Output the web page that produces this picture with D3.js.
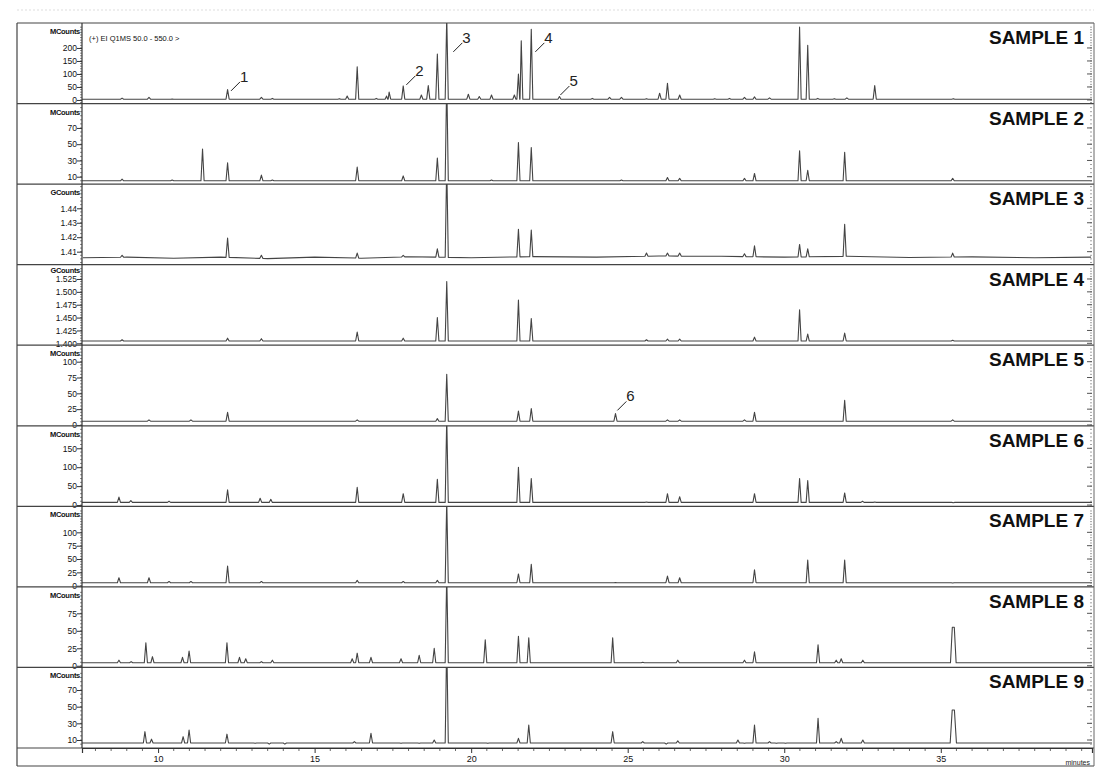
<!DOCTYPE html>
<html>
<head>
<meta charset="utf-8">
<script src="https://cdn.jsdelivr.net/npm/d3@7"></script>
<style>
  body { margin: 0; background: #fff; }
  svg { display: block; }
  text { font-family: "Liberation Sans", Arial, sans-serif; }
</style>
</head>
<body>
<svg id="chart" width="1098" height="776"></svg>
<script>
// ---- data ----
const sampleNames = ["SAMPLE 1", "SAMPLE 2", "SAMPLE 3", "SAMPLE 4", "SAMPLE 5",
                     "SAMPLE 6", "SAMPLE 7", "SAMPLE 8", "SAMPLE 9"];
const unitLabels = ["MCounts", "MCounts", "GCounts", "GCounts", "MCounts",
                    "MCounts", "MCounts", "MCounts", "MCounts"];
const yDomains = [[-13.8, 296], [0.9, 100], [1.40101, 1.45673], [1.39631, 1.5528], [-1.26, 126],
                  [-3.4, 209.5], [-2.2, 148.7], [-2.4, 112.8], [0.4, 97.1]];
const yTicks = [[0, 50, 100, 150, 200], [10, 30, 50, 70], [1.41, 1.42, 1.43, 1.44],
                [1.400, 1.425, 1.450, 1.475, 1.500, 1.525], [0, 25, 50, 75, 100],
                [0, 50, 100, 150], [0, 25, 50, 75, 100], [0, 25, 50, 75], [10, 30, 50, 70]];
const yMinorSteps = [10, 5, 0.0025, 0.005, 5, 10, 5, 5, 5];
const yFormats = ["d", "d", ".2f", ".3f", "d", "d", "d", "d", "d"];
const baselines = [3, 5, 1.4058, 1.4045, 6, 7, 5.6, 4.3, 6.4];

// retention time (minutes), apex height (panel units), optional half width (minutes)
const peaks1 = [[8.85, 7], [9.71, 10], [10.45, 4], [12.22, 40], [13.3, 10], [13.65, 6], [15.79, 5],
  [16.04, 15], [16.36, 128], [16.97, 6], [17.3, 15], [17.38, 30], [17.83, 54], [18.41, 19],
  [18.63, 55], [18.92, 177], [19.22, 320], [19.91, 22], [20.26, 13], [20.65, 19], [21.38, 19],
  [21.51, 100], [21.6, 228], [21.92, 272], [22.82, 13], [23.87, 6], [24.42, 10], [24.8, 10],
  [25.6, 5], [26.02, 26], [26.27, 64], [26.66, 19], [27.78, 5], [28.25, 6], [28.73, 10],
  [29.05, 12], [29.53, 8], [30.49, 280], [30.75, 210], [31.07, 6], [31.6, 5], [32.0, 8],
  [32.89, 55], [35.4, 5]];
const peaks2 = [[8.85, 7], [10.45, 6], [11.42, 44], [12.22, 27], [13.3, 12], [13.65, 6], [16.36, 22],
  [17.83, 11], [18.92, 33], [19.22, 130], [20.65, 6], [21.51, 52], [21.92, 46], [24.8, 6],
  [26.27, 9], [26.66, 8], [28.73, 8], [29.05, 14], [30.49, 42], [30.75, 18], [31.93, 40], [35.38, 8]];
const peaks3 = [[8.85, 1.4075], [12.22, 1.4195], [13.3, 1.4075], [16.36, 1.409], [17.83, 1.4075],
  [18.92, 1.412], [19.22, 1.47], [21.51, 1.4255], [21.92, 1.425], [25.6, 1.409], [26.27, 1.409],
  [26.66, 1.409], [28.73, 1.4085], [29.05, 1.414], [30.49, 1.415], [30.75, 1.412], [31.93, 1.429],
  [35.38, 1.409]];
const drift3 = [[7.6, 1.4058], [9.0, 1.4062], [10.5, 1.4055], [12.0, 1.4062], [13.5, 1.4052],
  [15.0, 1.4062], [16.5, 1.4055], [18.0, 1.4065], [20.0, 1.4058], [22.0, 1.4066], [24.0, 1.4062],
  [26.0, 1.407], [28.0, 1.4068], [30.0, 1.4062], [32.0, 1.4068], [34.0, 1.406], [36.0, 1.4064],
  [38.0, 1.4058], [39.8, 1.4062]];
const peaks4 = [[8.85, 1.407], [12.22, 1.41], [13.3, 1.409], [16.36, 1.422], [17.83, 1.41],
  [18.92, 1.45], [19.22, 1.52], [21.51, 1.484], [21.92, 1.448], [25.6, 1.407], [26.27, 1.408],
  [26.66, 1.408], [29.05, 1.412], [30.49, 1.465], [30.75, 1.418], [31.93, 1.42], [35.38, 1.406]];
const peaks5 = [[9.71, 8], [11.05, 8], [12.22, 20], [16.36, 8], [18.92, 10], [19.22, 80], [21.51, 22],
  [21.92, 26], [24.61, 18], [26.27, 8], [26.66, 8], [28.73, 8], [29.05, 20], [31.93, 39], [35.38, 8]];
const peaks6 = [[8.75, 21], [9.13, 12], [10.35, 10], [12.22, 40], [13.26, 18], [13.6, 15], [16.36, 47],
  [17.83, 30], [18.92, 68], [19.22, 230], [21.51, 100], [21.92, 70], [25.6, 8], [26.27, 30],
  [26.66, 22], [29.05, 30], [30.49, 70], [30.75, 65], [31.93, 32], [32.5, 10], [32.89, 8], [35.4, 6]];
const peaks7 = [[8.75, 15], [9.71, 15], [10.35, 8], [11.05, 8], [12.22, 37], [13.3, 8], [16.36, 10],
  [17.83, 8], [18.92, 10], [19.22, 160], [21.51, 22], [21.92, 40], [24.61, 6], [26.27, 18],
  [26.66, 15], [29.05, 30], [30.75, 48], [31.93, 48], [35.38, 5]];
const peaks8 = [[8.75, 8], [9.14, 6], [9.61, 33], [9.82, 13], [10.78, 12], [10.99, 21], [12.2, 33],
  [12.6, 12], [12.8, 10], [13.3, 6], [13.65, 8], [16.2, 10], [16.36, 18], [16.8, 12], [17.76, 10],
  [18.34, 15], [18.82, 25], [19.22, 130], [20.45, 37], [21.51, 42], [21.84, 40], [24.52, 40],
  [25.48, 5], [26.6, 8], [28.73, 8], [29.05, 20], [31.08, 30], [31.66, 8], [31.82, 10], [32.51, 8],
  [35.4, 55, 0.09]];
const peaks9 = [[9.58, 20], [9.79, 11], [10.8, 14], [10.99, 22], [12.2, 17], [13.1, 6], [13.55, 5],
  [14.05, 5], [16.27, 8], [16.8, 18], [17.76, 6], [18.34, 6], [18.82, 10], [19.22, 130], [20.53, 6],
  [21.51, 12], [21.84, 28], [24.52, 20], [25.48, 8], [26.23, 5], [26.6, 9], [28.52, 10], [28.73, 6],
  [29.05, 28], [29.53, 8], [29.75, 6], [30.04, 6], [31.08, 36], [31.66, 8], [31.82, 12], [32.51, 10],
  [35.4, 46, 0.1]];
const allPeaks = [peaks1, peaks2, peaks3, peaks4, peaks5, peaks6, peaks7, peaks8, peaks9];

const xTicks = [10, 15, 20, 25, 30, 35];
const annotations = [
  { label: "1", panel: 0, t: 12.33, v: 35 },
  { label: "2", panel: 0, t: 17.93, v: 58 },
  { label: "3", panel: 0, t: 19.43, v: 185 },
  { label: "4", panel: 0, t: 22.05, v: 185 },
  { label: "5", panel: 0, t: 22.85, v: 19 },
  { label: "6", panel: 4, t: 24.67, v: 23 }
];

// ---- layout ----
const svg = d3.select("#chart");
const frameLeft = 17, plotLeft = 82, plotRight = 1092, frameRight = 1094;
const plotTop = 23, plotBottom = 748, frameBottom = 766;
const panelH = (plotBottom - plotTop) / 9;
const halfWidth = 0.05;

const x = d3.scaleLinear().domain([7.57, 39.83]).range([plotLeft, plotRight]);

svg.append("rect").attr("width", 1098).attr("height", 776).attr("fill", "#fff");

// faint scan line at the very top
svg.append("line")
  .attr("x1", frameLeft).attr("x2", frameRight).attr("y1", 10).attr("y2", 10)
  .attr("stroke", "#ddd").attr("stroke-dasharray", "2,2");

const defs = svg.append("defs");

allPeaks.forEach((peaks, i) => {
  const top = plotTop + i * panelH, bottom = top + panelH;
  const y = d3.scaleLinear().domain(yDomains[i]).range([bottom, top]);
  const g = svg.append("g").attr("class", "panel");

  defs.append("clipPath").attr("id", "clip" + i)
    .append("rect").attr("x", plotLeft).attr("y", top).attr("width", plotRight - plotLeft).attr("height", panelH);

  // baseline + spikes
  const base = i === 2
    ? (t => { const j = d3.bisector(d => d[0]).left(drift3, t);
              const a = drift3[Math.max(0, j - 1)], b = drift3[Math.min(drift3.length - 1, j)];
              return a[0] === b[0] ? a[1] : a[1] + (b[1] - a[1]) * (t - a[0]) / (b[0] - a[0]); })
    : (() => baselines[i]);
  const pts = [];
  if (i === 2) drift3.forEach(d => pts.push(d));
  else { pts.push([x.domain()[0], base()]); pts.push([x.domain()[1], base()]); }
  peaks.forEach(([t, h, w]) => {
    const hw = w || halfWidth;
    pts.push([t - hw, base(t - hw)]);
    if (w) { pts.push([t - hw * 0.35, h]); pts.push([t + hw * 0.35, h]); }
    else pts.push([t, h]);
    pts.push([t + hw, base(t + hw)]);
  });
  pts.sort((a, b) => a[0] - b[0]);

  g.append("path")
    .datum(pts)
    .attr("clip-path", `url(#clip${i})`)
    .attr("fill", "none")
    .attr("stroke", "#444")
    .attr("stroke-width", 1.1)
    .attr("stroke-linejoin", "round")
    .attr("d", d3.line().x(d => x(d[0])).y(d => y(d[1])));

  // left axis with minor ticks
  const [lo, hi] = yDomains[i];
  const step = yMinorSteps[i];
  const minor = d3.range(Math.ceil(lo / step) * step, hi, step)
    .filter(v => y(v) > top + 2 && y(v) < bottom - 0.5);
  g.selectAll(".minorL").data(minor).join("line")
    .attr("x1", plotLeft - 2).attr("x2", plotLeft)
    .attr("y1", d => y(d)).attr("y2", d => y(d))
    .attr("stroke", "#555").attr("stroke-width", 0.7);
  g.selectAll(".minorR").data(minor).join("line")
    .attr("x1", plotRight - 2).attr("x2", plotRight)
    .attr("y1", d => y(d)).attr("y2", d => y(d))
    .attr("stroke", "#777").attr("stroke-width", 0.7);

  const yAxis = d3.axisLeft(y).tickValues(yTicks[i]).tickSize(5).tickFormat(d3.format(yFormats[i]));
  const ag = g.append("g").attr("transform", `translate(${plotLeft},0)`).call(yAxis);
  ag.select(".domain").remove();
  ag.selectAll(".tick line").attr("stroke", "#333");
  ag.selectAll(".tick text").attr("font-size", 8.5).attr("fill", "#111")
    .attr("font-family", "'Liberation Sans', Arial, sans-serif").attr("x", -5);

  g.selectAll(".majorR").data(yTicks[i]).join("line")
    .attr("x1", plotRight - 5).attr("x2", plotRight)
    .attr("y1", d => y(d)).attr("y2", d => y(d))
    .attr("stroke", "#555");

  const topTick = d3.max(yTicks[i]);
  g.append("text")
    .attr("x", plotLeft - 2).attr("y", Math.min(top + 11, y(topTick) - 5.5))
    .attr("text-anchor", "end").attr("font-size", 7.5).attr("font-weight", "bold")
    .attr("fill", "#111").attr("letter-spacing", -0.3)
    .text(unitLabels[i]);

  g.append("text")
    .attr("x", plotRight - 8).attr("y", top + 21)
    .attr("text-anchor", "end").attr("font-size", 19).attr("font-weight", "bold")
    .attr("fill", "#111")
    .text(sampleNames[i]);

  // separator under the panel
  svg.append("line")
    .attr("x1", frameLeft).attr("x2", frameRight)
    .attr("y1", bottom).attr("y2", bottom)
    .attr("stroke", "#444").attr("stroke-width", 1.2);

  annotations.filter(a => a.panel === i).forEach(a => {
    const ax = x(a.t), ay = y(a.v);
    g.append("line")
      .attr("x1", ax).attr("y1", ay).attr("x2", ax + 9).attr("y2", ay - 9)
      .attr("stroke", "#222").attr("stroke-width", 1);
    g.append("text")
      .attr("x", ax + 9).attr("y", ay - 9)
      .attr("font-size", 15).attr("fill", "#222")
      .text(a.label);
  });
});

// header text of the first trace
svg.append("text")
  .attr("x", 89).attr("y", 41)
  .attr("font-size", 7.5).attr("fill", "#111")
  .text("(+) EI Q1MS 50.0 - 550.0 >");

// frame
svg.append("line").attr("x1", frameLeft).attr("x2", frameRight).attr("y1", plotTop).attr("y2", plotTop)
  .attr("stroke", "#444").attr("stroke-width", 1.2);
svg.append("line").attr("x1", frameLeft).attr("x2", frameLeft).attr("y1", plotTop).attr("y2", frameBottom)
  .attr("stroke", "#444").attr("stroke-width", 1.2);
svg.append("line").attr("x1", frameLeft).attr("x2", frameRight).attr("y1", frameBottom).attr("y2", frameBottom)
  .attr("stroke", "#444").attr("stroke-width", 1.2);
svg.append("line").attr("x1", frameRight).attr("x2", frameRight).attr("y1", plotTop).attr("y2", frameBottom)
  .attr("stroke", "#666").attr("stroke-width", 1);
svg.append("line").attr("x1", plotLeft).attr("x2", plotLeft).attr("y1", plotTop).attr("y2", plotBottom)
  .attr("stroke", "#333").attr("stroke-width", 1.2);

// time axis
const minorX = d3.range(8, 39.8, 0.5).filter(t => !xTicks.includes(t));
svg.selectAll(".minorX").data(minorX).join("line")
  .attr("x1", d => x(d)).attr("x2", d => x(d))
  .attr("y1", plotBottom).attr("y2", plotBottom + 3)
  .attr("stroke", "#444").attr("stroke-width", 0.8);
const xg = svg.append("g").attr("transform", `translate(0,${plotBottom})`)
  .call(d3.axisBottom(x).tickValues(xTicks).tickSize(5).tickFormat(d3.format("d")));
xg.select(".domain").attr("stroke", "#333").attr("stroke-width", 1.2);
xg.selectAll(".tick line").attr("stroke", "#333");
xg.selectAll(".tick text").attr("font-size", 9).attr("fill", "#111").attr("y", 8)
  .attr("font-family", "'Liberation Sans', Arial, sans-serif");

svg.append("text")
  .attr("x", plotRight - 2).attr("y", 765)
  .attr("text-anchor", "end").attr("font-size", 7).attr("fill", "#222")
  .text("minutes");
</script>
</body>
</html>
